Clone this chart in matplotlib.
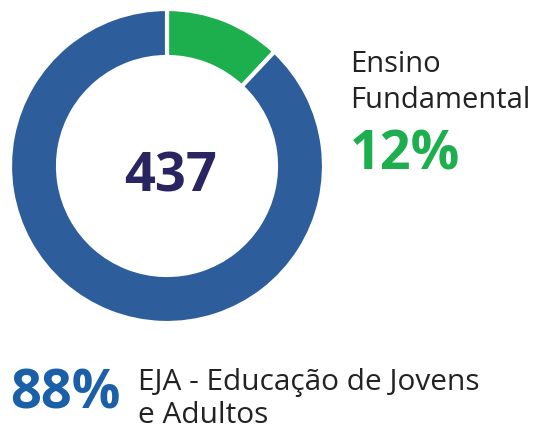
import matplotlib.pyplot as plt

# shares of enrolments by level
labels = ['Ensino Fundamental', 'EJA - Educação de Jovens e Adultos']
shares = [12, 88]
total = 437
colors = ['#1dae4e', '#2d5d9b']

plt.rcParams['font.family'] = ['Open Sans', 'DejaVu Sans']

W, H = 537, 431
fig = plt.figure(figsize=(W / 100, H / 100), dpi=100)
ax = fig.add_axes([0, 0, 1, 1])
ax.set_xlim(0, W)
ax.set_ylim(0, H)
ax.set_aspect('equal')
ax.axis('off')

ax.pie(shares, colors=colors, startangle=90, counterclock=False,
       center=(167, H - 167), radius=157,
       wedgeprops=dict(width=48, edgecolor='white', linewidth=3))
ax.set_xlim(0, W)
ax.set_ylim(0, H)

# total in the hole
ax.text(171, H - 192, str(total), ha='center', va='baseline',
        fontsize=39, fontweight='bold', color='#2a2560')

# green segment label
ax.text(350, H - 72, 'Ensino', ha='left', va='baseline',
        fontsize=21, color='#222222')
ax.text(350, H - 108, 'Fundamental', ha='left', va='baseline',
        fontsize=21, color='#222222')
ax.text(350, H - 170, f'{shares[0]}%', ha='left', va='baseline',
        fontsize=39, fontweight='bold', color='#1dae4e')

# blue segment label
ax.text(10, H - 409, f'{shares[1]}%', ha='left', va='baseline',
        fontsize=39, fontweight='bold', color='#1a5fa8')
ax.text(138, H - 390, 'EJA - Educação de Jovens', ha='left', va='baseline',
        fontsize=21.5, color='#222222')
ax.text(138, H - 423, 'e Adultos', ha='left', va='baseline',
        fontsize=21.5, color='#222222')

fig.savefig('out.png', dpi=100)
